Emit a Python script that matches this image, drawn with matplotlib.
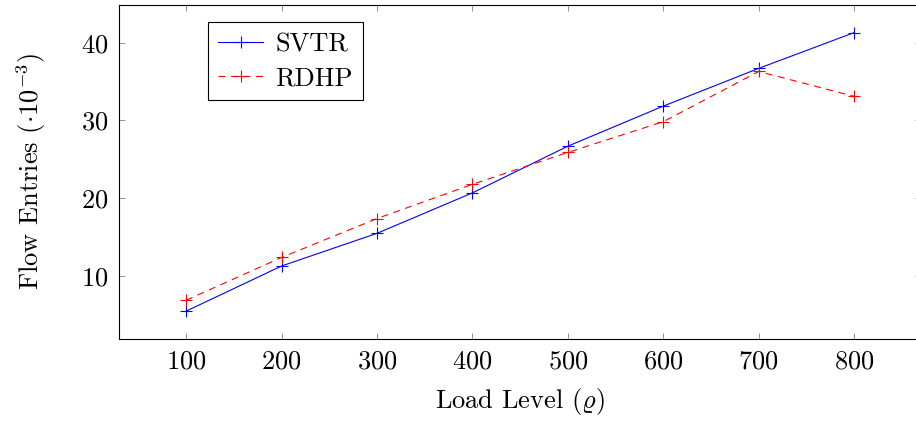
import numpy as np
import matplotlib
matplotlib.use('Agg')
from matplotlib import pyplot as plt

# load levels and flow entries (x10^-3)
load = [100, 200, 300, 400, 500, 600, 700, 800]
svtr = [5.5, 11.3, 15.5, 20.7, 26.7, 31.85, 36.7, 41.3]
rdhp = [6.9, 12.4, 17.4, 21.8, 25.9, 29.85, 36.3, 33.1]

plt.rcParams['font.family'] = 'serif'
plt.rcParams['font.serif'] = ['cmr10']
plt.rcParams['mathtext.fontset'] = 'cm'
plt.rcParams['axes.formatter.use_mathtext'] = True
plt.rcParams['lines.scale_dashes'] = False
fs = 19

W, H = 916, 425
fig = plt.figure(figsize=(W/100., H/100.), dpi=100)
# axes box in pixels (right spine falls just outside the picture)
l, r, t, b = 119.3, 921.0, 4.7, 339.0
ax = fig.add_axes([l/W, 1-b/H, (r-l)/W, (b-t)/H])

ax.plot(load, svtr, color='blue', lw=0.8, marker='+', ms=8, mew=0.8,
        label='SVTR')
ax.plot(load, rdhp, color='red', lw=0.8, marker='+', ms=8, mew=0.8,
        dashes=(5, 4), label='RDHP')

ax.set_xlim(30, 870)
ax.set_ylim(1.92, 44.88)
ax.set_xticks(load)
ax.set_yticks([10, 20, 30, 40])
ax.tick_params(direction='in', length=4.3, width=0.6, color='0.5',
               top=True, right=True, pad=8, labelsize=fs)
for s in ax.spines.values():
    s.set_linewidth(0.8)

ax.set_xlabel(r'Load Level $(\varrho)$', fontsize=fs, labelpad=9)
ax.set_ylabel(r'Flow Entries $(\cdot 10^{-3})$', fontsize=fs, labelpad=24)

leg = ax.legend(loc='upper left', bbox_to_anchor=(0.111, 0.947),
                borderaxespad=0, fancybox=False, framealpha=1,
                edgecolor='black', handlelength=1.7, labelspacing=0.4,
                borderpad=0.38, handletextpad=0.45, fontsize=fs)
leg.get_frame().set_linewidth(0.8)

fig.savefig('out.png', dpi=100)
